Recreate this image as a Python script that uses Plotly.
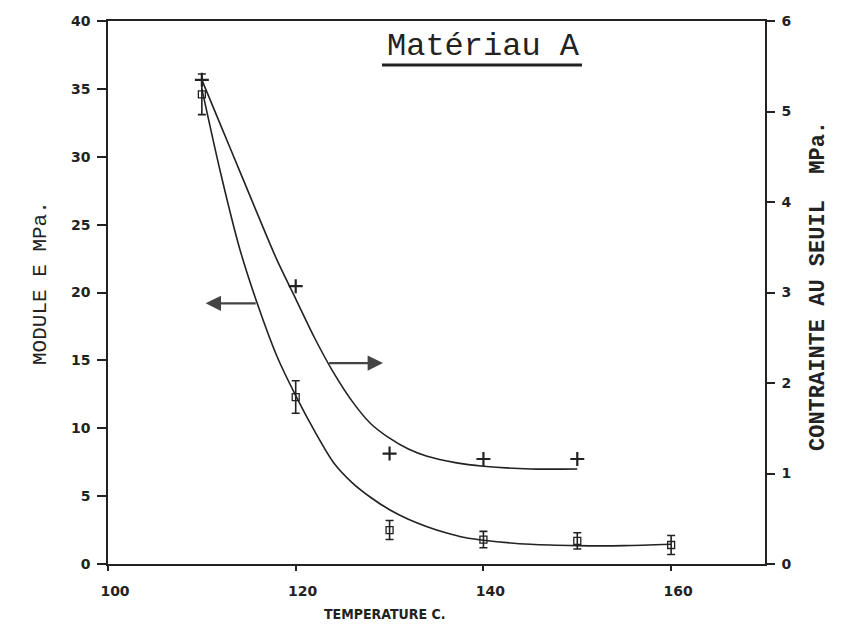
import plotly.graph_objects as go

# ---- data ----
temp_E = [110, 120, 130, 140, 150, 160]
module_E = [34.6, 12.3, 2.5, 1.8, 1.7, 1.4]
module_E_err = [1.5, 1.2, 0.7, 0.6, 0.6, 0.7]

temp_s = [110, 120, 130, 140, 150]
contrainte = [5.35, 3.07, 1.22, 1.16, 1.16]

# smooth fitted curves
curve_E_t = [110, 112, 114, 116, 118, 120, 122, 124, 126, 128, 130, 132, 134, 136, 138, 140, 145, 150, 155, 160]
curve_E_v = [35.0, 28.8, 23.3, 19.0, 15.3, 12.4, 9.8, 7.5, 6.0, 4.9, 4.0, 3.3, 2.75, 2.3, 1.95, 1.75, 1.45, 1.35, 1.35, 1.45]

curve_s_t = [110, 112, 114, 116, 118, 120, 122, 124, 126, 128, 130, 132, 134, 137, 140, 145, 150]
curve_s_v = [5.35, 4.85, 4.35, 3.85, 3.36, 2.93, 2.5, 2.12, 1.8, 1.55, 1.39, 1.27, 1.19, 1.12, 1.08, 1.05, 1.05]

x_ticks = [100, 120, 140, 160]
y_ticks = [0, 5, 10, 15, 20, 25, 30, 35, 40]
y2_ticks = [0, 1, 2, 3, 4, 5, 6]

INK = "#222222"

fig = go.Figure()
fig.add_trace(go.Scatter(x=curve_E_t, y=curve_E_v, mode="lines",
                         line=dict(color=INK, width=1.6, shape="spline", smoothing=0.8),
                         showlegend=False, hoverinfo="skip"))
fig.add_trace(go.Scatter(x=curve_s_t, y=curve_s_v, mode="lines", yaxis="y2",
                         line=dict(color=INK, width=1.6, shape="spline", smoothing=0.8),
                         showlegend=False, hoverinfo="skip"))
fig.add_trace(go.Scatter(x=temp_E, y=module_E, mode="markers",
                         marker=dict(symbol="square-open", size=7, color=INK,
                                     line=dict(width=1.3, color=INK)),
                         error_y=dict(type="data", array=module_E_err, visible=True,
                                      color=INK, thickness=1.6, width=4),
                         showlegend=False))
fig.add_trace(go.Scatter(x=temp_s, y=contrainte, mode="markers", yaxis="y2",
                         marker=dict(symbol="cross-thin", size=10, color=INK,
                                     line=dict(width=2.2, color=INK)),
                         showlegend=False))

tickfont = dict(family="DejaVu Sans", size=14, color=INK, weight="bold")

fig.update_layout(
    width=850, height=639,
    margin=dict(l=108, r=85, t=21, b=75),
    plot_bgcolor="white", paper_bgcolor="white",
    xaxis=dict(range=[100, 170], tickvals=x_ticks, ticks="outside", ticklen=5,
               tickcolor=INK, tickwidth=1.5, showline=True, linecolor=INK,
               linewidth=1.6, mirror=True, showgrid=False, zeroline=False,
               tickfont=tickfont, ticklabelstandoff=8, ticklabelshift=7),
    yaxis=dict(range=[0, 40], tickvals=y_ticks, ticks="outside", ticklen=9,
               tickcolor=INK, tickwidth=1.5, showline=True, linecolor=INK,
               linewidth=1.6, showgrid=False, zeroline=False,
               tickfont=tickfont, ticklabelstandoff=4),
    yaxis2=dict(range=[0, 6], tickvals=y2_ticks, overlaying="y", side="right",
                ticks="outside", ticklen=8, tickcolor=INK, tickwidth=1.5,
                showline=True, linecolor=INK, linewidth=1.6, showgrid=False,
                zeroline=False, tickfont=tickfont, ticklabelstandoff=4),
)

mono = "Liberation Mono"
fig.add_annotation(text="Matériau A", xref="paper", yref="paper",
                   x=(483 - 108) / 657, y=(564 - 47) / 543, showarrow=False,
                   xanchor="center", yanchor="middle",
                   font=dict(family=mono, size=32, color=INK))
fig.add_shape(type="line", xref="paper", yref="paper",
              x0=(382 - 108) / 657, x1=(582 - 108) / 657,
              y0=(564 - 65) / 543, y1=(564 - 65) / 543,
              line=dict(color=INK, width=3))

fig.add_annotation(text="MODULE E MPa.", xref="paper", yref="paper",
                   x=(40 - 108) / 657, y=(564 - 283) / 543, textangle=-90,
                   xanchor="center", yanchor="middle",
                   showarrow=False, font=dict(family=mono, size=21, color=INK))
fig.add_annotation(text="CONTRAINTE AU SEUIL  MPa.", xref="paper", yref="paper",
                   x=(818 - 108) / 657, y=(564 - 286) / 543, textangle=-90,
                   xanchor="center", yanchor="middle",
                   showarrow=False,
                   font=dict(family=mono, size=22, color=INK, weight="bold"))
fig.add_annotation(text="TEMPERATURE C.", xref="paper", yref="paper",
                   x=(384 - 108) / 657, y=(564 - 614) / 543, showarrow=False,
                   xanchor="center", yanchor="middle",
                   font=dict(family="DejaVu Sans Condensed", size=14, color=INK,
                             weight="bold"))

# arrows pointing to the relevant axes
fig.add_annotation(x=110.4, y=19.2, ax=115.9, ay=19.2, xref="x", yref="y",
                   axref="x", ayref="y", showarrow=True, arrowhead=2,
                   arrowsize=1.4, arrowwidth=2.2, arrowcolor="#444444", text="")
fig.add_annotation(x=129.3, y=14.8, ax=123.4, ay=14.8, xref="x", yref="y",
                   axref="x", ayref="y", showarrow=True, arrowhead=2,
                   arrowsize=1.4, arrowwidth=2.2, arrowcolor="#444444", text="")

fig.write_html("out.html")
